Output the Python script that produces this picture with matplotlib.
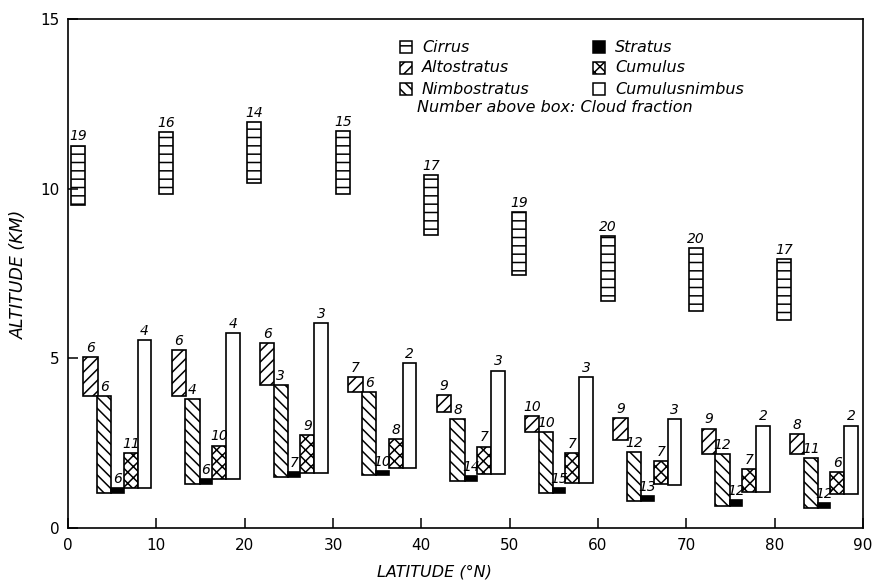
import numpy as np
import matplotlib
matplotlib.use("Agg")
import matplotlib.pyplot as plt
from matplotlib.patches import Rectangle

# latitude bins (deg N), one group of boxes per bin
lat_bins = [0, 10, 20, 30, 40, 50, 60, 70, 80]

# box base / top altitudes (km) and cloud fraction printed above each box
cirrus_base = [9.53, 9.85, 10.18, 9.85, 8.64, 7.46, 6.69, 6.39, 6.12]
cirrus_top = [11.27, 11.66, 11.95, 11.69, 10.41, 9.32, 8.61, 8.25, 7.93]
cirrus_frac = [19, 16, 14, 15, 17, 19, 20, 20, 17]

alto_base = [3.90, 3.90, 4.20, 4.02, 3.43, 2.84, 2.60, 2.19, 2.19]
alto_top = [5.03, 5.24, 5.44, 4.44, 3.93, 3.31, 3.25, 2.93, 2.78]
alto_frac = [6, 6, 6, 7, 9, 10, 9, 9, 8]

nimbo_base = [1.04, 1.30, 1.51, 1.57, 1.39, 1.04, 0.80, 0.65, 0.59]
nimbo_top = [3.90, 3.79, 4.20, 4.02, 3.22, 2.84, 2.25, 2.19, 2.07]
nimbo_frac = [6, 4, 3, 6, 8, 10, 12, 12, 11]

stratus_base = [1.04, 1.30, 1.51, 1.57, 1.39, 1.04, 0.80, 0.65, 0.59]
stratus_top = [1.18, 1.45, 1.66, 1.69, 1.54, 1.18, 0.95, 0.83, 0.74]
stratus_frac = [6, 6, 7, 10, 14, 15, 13, 12, 12]

cumulus_base = [1.18, 1.45, 1.63, 1.78, 1.60, 1.33, 1.30, 1.07, 1.01]
cumulus_top = [2.22, 2.43, 2.75, 2.63, 2.40, 2.22, 1.98, 1.75, 1.66]
cumulus_frac = [11, 10, 9, 8, 7, 7, 7, 7, 6]

cb_base = [1.18, 1.45, 1.63, 1.78, 1.60, 1.33, 1.27, 1.07, 1.01]
cb_top = [5.53, 5.74, 6.04, 4.85, 4.64, 4.44, 3.22, 3.02, 3.02]
cb_frac = [4, 4, 3, 2, 3, 3, 3, 2, 2]

plt.rcParams['font.family'] = 'DejaVu Sans'
plt.rcParams['hatch.linewidth'] = 1.1

W, H = 872, 583
fig = plt.figure(figsize=(W / 100, H / 100), dpi=100)
ax = fig.add_axes([68 / W, 1 - 528 / H, 795 / W, 509 / H])

# name, base, top, fraction, left offset in bin, width, style
clouds = [
    ("Cirrus", cirrus_base, cirrus_top, cirrus_frac, 0.3, 1.6, dict(facecolor='white', hatch='--')),
    ("Altostratus", alto_base, alto_top, alto_frac, 1.75, 1.6, dict(facecolor='white', hatch='///')),
    ("Nimbostratus", nimbo_base, nimbo_top, nimbo_frac, 3.3, 1.6, dict(facecolor='white', hatch='\\\\\\')),
    ("Stratus", stratus_base, stratus_top, stratus_frac, 4.9, 1.4, dict(facecolor='black')),
    ("Cumulus", cumulus_base, cumulus_top, cumulus_frac, 6.3, 1.6, dict(facecolor='white', hatch='xxx')),
    ("Cumulusnimbus", cb_base, cb_top, cb_frac, 7.9, 1.55, dict(facecolor='white')),
]

for name, base, top, frac, off, w, style in clouds:
    x = np.array(lat_bins) + off
    base = np.array(base)
    top = np.array(top)
    bars = ax.bar(x, top - base, bottom=base, width=w, align='edge',
                  edgecolor='black', linewidth=1.2, **style)
    ax.bar_label(bars, labels=[str(f) for f in frac], padding=1.5,
                 fontsize=10, fontstyle='italic')

ax.set_xlim(0, 90)
ax.set_ylim(0, 15)
ax.set_xticks(range(0, 91, 10))
ax.set_yticks([0, 5, 10, 15])
ax.tick_params(direction='in', length=7, width=1.1, labelsize=11)
ax.tick_params(axis='x', pad=7)
ax.tick_params(axis='y', pad=6)
for s in ax.spines.values():
    s.set_linewidth(1.2)

fig.text(434 / W, 1 - 572 / H, "LATITUDE (°N)", ha='center', va='center',
         fontsize=11.5, fontstyle='italic')
fig.text(19 / W, 1 - 274 / H, "ALTITUDE (KM)", ha='center', va='center',
         rotation=90, fontsize=12.5, fontstyle='italic')

# legend drawn by hand, figure pixel positions
def add_key(px, py, name, style):
    r = Rectangle((px / W, 1 - (py + 6) / H), 12 / W, 12 / H,
                  transform=fig.transFigure, edgecolor='black', linewidth=1.1, **style)
    fig.patches.append(r)
    fig.text((px + 22) / W, 1 - py / H, name, ha='left', va='center',
             fontsize=11.5, fontstyle='italic')

key_x = [400, 400, 400, 593, 593, 593]
key_y = [47, 68, 89, 47, 68, 89]
for (name, _, _, _, _, _, style), kx, ky in zip(clouds, key_x, key_y):
    add_key(kx, ky, name, style)

fig.text(417 / W, 1 - 108 / H, "Number above box: Cloud fraction", ha='left', va='center',
         fontsize=11.5, fontstyle='italic')

fig.savefig("out.png", dpi=100)
